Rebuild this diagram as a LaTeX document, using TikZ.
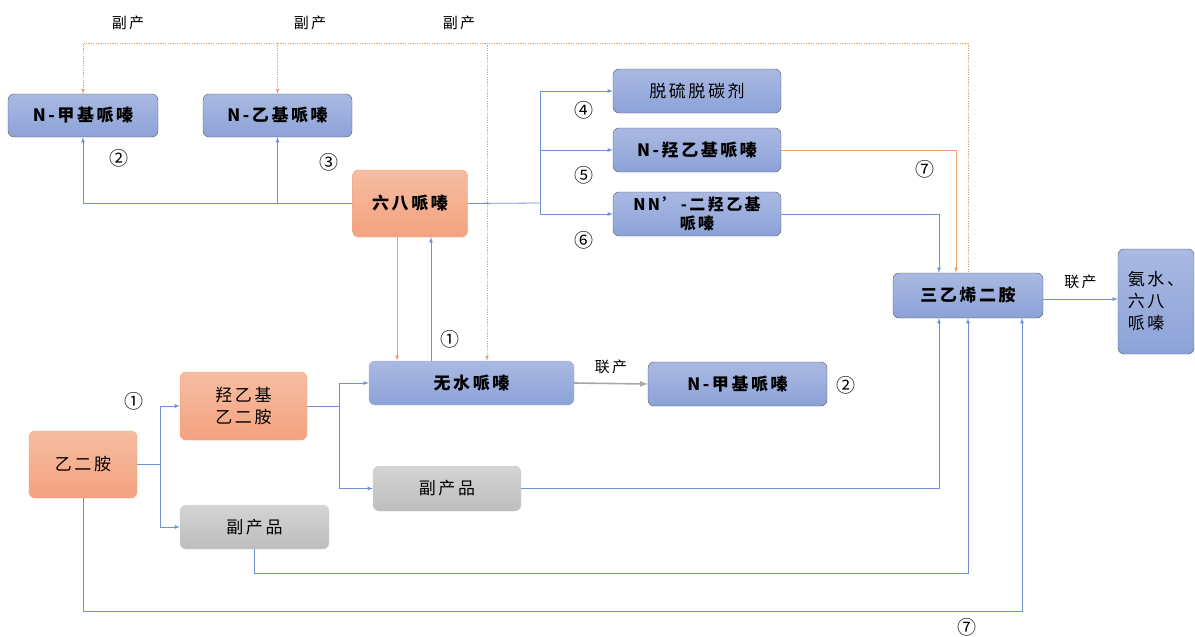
\documentclass[tikz,border=0pt]{standalone}
\usepackage{fontspec}
\setmainfont{Noto Sans CJK SC}
\newfontfamily\cjk[LetterSpace=15]{Noto Sans CJK SC}
\definecolor{bluetop}{HTML}{AAB9E2}
\definecolor{bluebot}{HTML}{8CA2D8}
\definecolor{orgtop}{HTML}{F6BDA2}
\definecolor{orgbot}{HTML}{F4A27F}
\definecolor{graytop}{HTML}{D4D4D4}
\definecolor{graybot}{HTML}{BDBDBD}
\definecolor{bline}{HTML}{6F90D4}
\definecolor{oline}{HTML}{F0A06C}
\tikzset{
  box/.style={rounded corners=6pt, align=center, inner sep=2pt, font=\cjk\bfseries\fontsize{17}{22}\selectfont},
  thin/.style={font=\cjk\fontsize{17}{22}\selectfont},
  bluebox/.style={box, draw=black!65, top color=bluetop, bottom color=bluebot},
  orgbox/.style={box, draw=orgbot, top color=orgtop, bottom color=orgbot},
  graybox/.style={box, thin, draw=graytop, top color=graytop, bottom color=graybot},
  blink/.style={draw=bline, line width=0.8pt, -latex},
  olink/.style={draw=oline, line width=0.8pt, -latex},
  dlink/.style={draw=oline, line width=0.7pt, dash pattern=on 1.2pt off 1.2pt},
  glink/.style={draw=black!35, line width=1.6pt, -latex},
  num/.style={font=\fontsize{19}{19}\selectfont},
  lab/.style={font=\cjk\fontsize{15}{15}\selectfont}
}
\begin{document}
\begin{tikzpicture}[x=1pt, y=-1pt]
\useasboundingbox (0,0) rectangle (1195,637);
% boxes
\node[bluebox, minimum width=150, minimum height=43] (nmp) at (83,115.5) {N-甲基哌嗪};
\node[bluebox, minimum width=149, minimum height=43] (nep) at (277.5,115.5) {N-乙基哌嗪};
\node[orgbox, minimum width=115, minimum height=67] (lpp) at (410,203.5) {六八哌嗪};
\node[bluebox, thin, minimum width=168, minimum height=44] (tl) at (697,91) {脱硫脱碳剂};
\node[bluebox, minimum width=168, minimum height=44] (nhp) at (697,150) {N-羟乙基哌嗪};
\node[bluebox, minimum width=168, minimum height=44, font=\cjk\bfseries\fontsize{16}{19}\selectfont] (ndp) at (697,214) {NN’-二羟乙基\\哌嗪};
\node[bluebox, minimum width=150, minimum height=45] (ted) at (968,295.5) {三乙烯二胺};
\node[bluebox, thin, minimum width=76, minimum height=105, align=left] (ah) at (1156,301.5) {氨水、\\六八\\哌嗪};
\node[bluebox, draw=bluebot!80!white, minimum width=205, minimum height=44] (ap) at (471.5,383) {无水哌嗪};
\node[bluebox, minimum width=179, minimum height=44] (nmp2) at (737.5,384) {N-甲基哌嗪};
\node[orgbox, thin, minimum width=127, minimum height=68] (hea) at (243.5,406) {羟乙基\\乙二胺};
\node[orgbox, thin, minimum width=108, minimum height=67] (eda) at (83,464.5) {乙二胺};
\node[graybox, minimum width=148, minimum height=45] (bp1) at (447,488.5) {副产品};
\node[graybox, minimum width=149, minimum height=44] (bp2) at (254.5,527) {副产品};
% split points
\coordinate (tp) at (968,43);
\coordinate (s0) at (540,203);
\coordinate (s1) at (160,464.5);
\coordinate (s2) at (339,406);
\coordinate (apd) at ([xshift=15.5pt]ap.north);
% by-product dotted lines
\draw[dlink] (tp) -- (ted.north);
\draw[dlink, -latex] (tp) -| (nmp.north);
\draw[dlink, -latex] (tp -| nep.north) -- (nep.north);
\draw[dlink, -latex] (tp -| apd) -- (apd);
% piperazine branches
\draw[blink] (lpp.west) -| (nmp.south);
\draw[blink] (lpp.west -| nep.south) -- (nep.south);
\draw[draw=bline, line width=0.8pt] (lpp.east) -- (s0);
\draw[blink] (s0) |- (tl.west);
\draw[blink] (s0) |- (nhp.west);
\draw[blink] (s0) |- (ndp.west);
\draw[olink] (nhp.east) -| ([xshift=-12pt]ted.north);
\draw[blink] (ndp.east) -| ([xshift=-29pt]ted.north);
\draw[olink] ([xshift=-13pt]lpp.south) -- ([xshift=-13pt]lpp.south |- ap.north);
\draw[blink] ([xshift=21pt]lpp.south |- ap.north) -- ([xshift=21pt]lpp.south);
% ethylenediamine branches
\draw[draw=bline, line width=0.8pt] (eda.east) -- (s1);
\draw[blink] (s1) |- (hea.west);
\draw[blink] (s1) |- (bp2.west);
\draw[draw=bline, line width=0.8pt] (hea.east) -- (s2);
\draw[blink] (s2) |- (ap.west);
\draw[blink] (s2) |- (bp1.west);
\draw[blink] (bp1.east) -| ([xshift=-29pt]ted.south);
\draw[blink] (bp2.south) -- ++(0,24) -| (ted.south);
\draw[blink] (eda.south) -- ++(0,113) -| ([xshift=54pt]ted.south);
\draw[glink] (ap.east) -- node[lab, above=6pt] {联产} (nmp2.west);
\draw[blink] ([yshift=-3.5pt]ted.east) -- node[lab, above=6pt] {联产} ([yshift=-3.5pt]ted.east -| ah.west);
% labels
\node[lab] (fc1) at (128,23) {副产};
\node[lab] (fc2) at (310,23) {副产};
\node[lab] (fc3) at (459,23) {副产};
\node[num] (n2a) at (119,158) {②};
\node[num] (n3) at (329,162) {③};
\node[num] (n4) at (584,110) {④};
\node[num] (n5) at (584,175) {⑤};
\node[num] (n6) at (584,240) {⑥};
\node[num] (n7a) at (925,169) {⑦};
\node[num] (n1a) at (450,339) {①};
\node[num] (n1b) at (134,401) {①};
\node[num] (n2b) at (846,385) {②};
\node[num] (n7b) at (967,627) {⑦};
\end{tikzpicture}
\end{document}
